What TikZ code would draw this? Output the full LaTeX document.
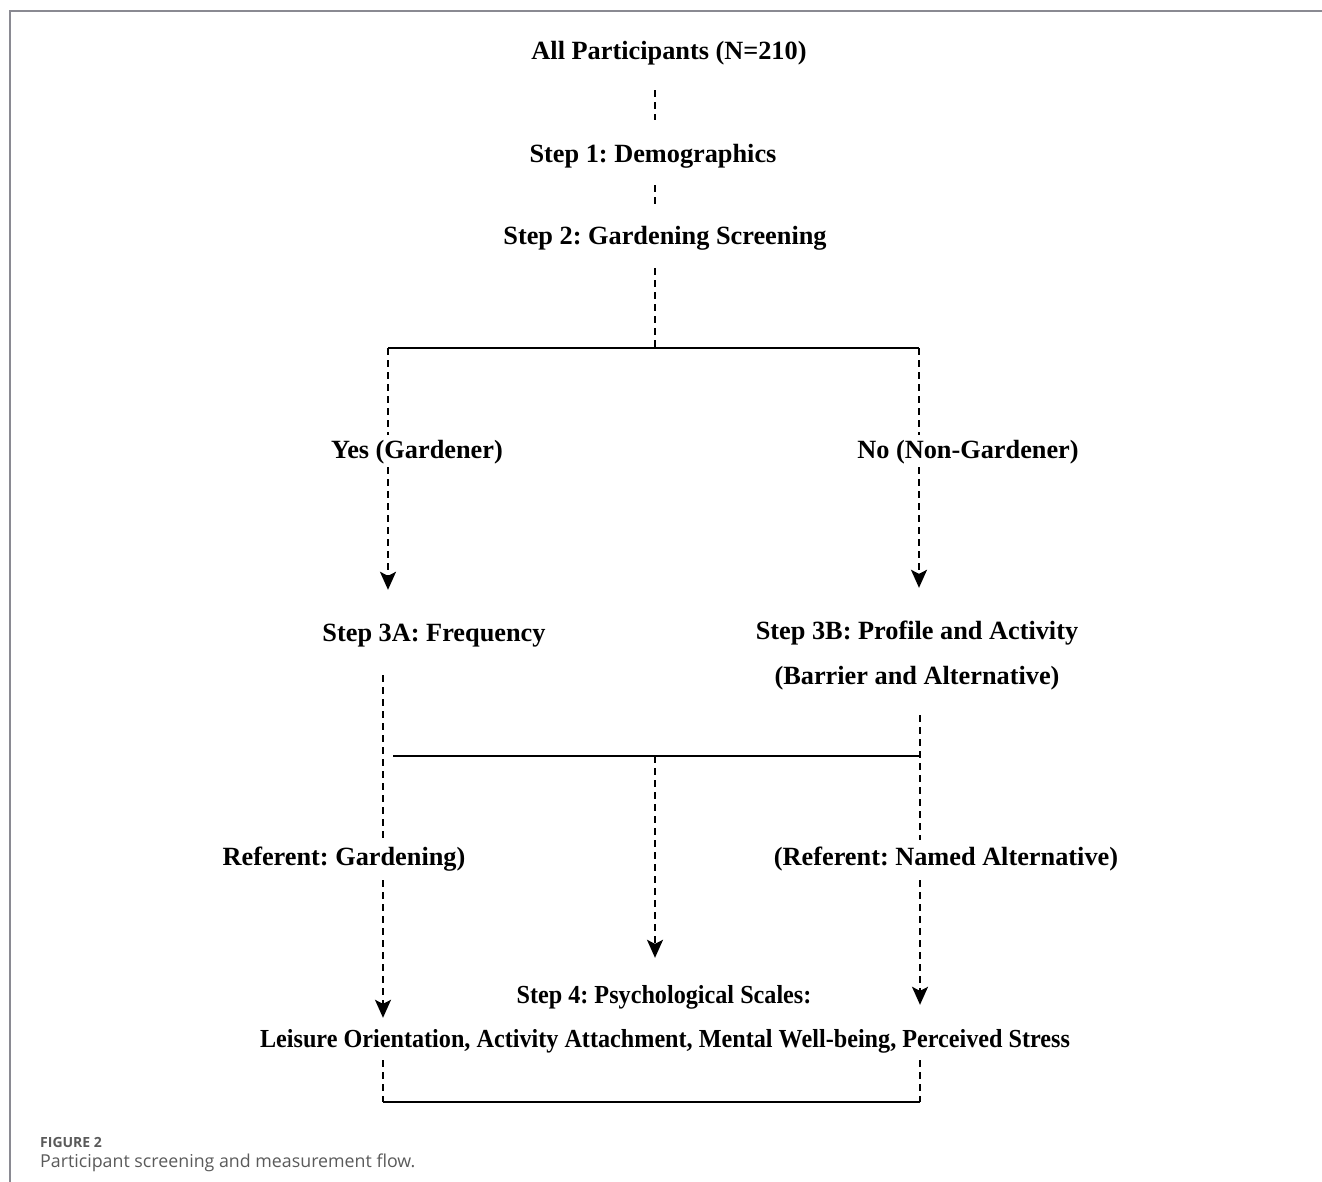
\documentclass[tikz,border=0pt]{standalone}
\usepackage{fontspec}
\setmainfont{Liberation Serif}
\newfontfamily\condfont[FakeStretch=0.93]{Liberation Serif}
\newfontfamily\capfont{Open Sans}
\usetikzlibrary{arrows.meta}
\definecolor{framegray}{HTML}{8A8A92}
\definecolor{capgray}{HTML}{5A5A5A}
\tikzset{
  lbl/.style={font=\frenchspacing\fontsize{26.3}{29}\selectfont\bfseries, inner sep=0pt, text height=19pt, text depth=6pt, anchor=center},
  lblc/.style={lbl, font=\frenchspacing\condfont\fontsize{26}{29}\selectfont\bfseries},
  dsh/.style={line width=1.7pt, dash pattern=on 7pt off 5pt},
  sld/.style={line width=2.2pt},
  arr/.style={-{Stealth[length=18pt,width=16pt,inset=4pt]}},
}
\begin{document}
\begin{tikzpicture}[x=1pt,y=-1pt]
\useasboundingbox (0,0) rectangle (1322,1182);
% frame
\draw[framegray, line width=2pt] (10,1182) -- (10,11) -- (1322,11);
% nodes
\node[lbl] (n1) at (669,53) {All Participants (N=210)};
\node[lbl] (s1) at (653,156) {Step 1: Demographics};
\node[lbl] (s2) at (665,238) {Step 2: Gardening Screening};
\node[lbl] (yes) at (417,452) {Yes (Gardener)};
\node[lbl] (no) at (968,452) {No (Non-Gardener)};
\node[lbl] (s3a) at (434,635) {Step 3A: Frequency};
\node[lbl] (s3b) at (917,633) {Step 3B: Profile and Activity};
\node[lbl] (s3bb) at (917,678) {(Barrier and Alternative)};
\node[lbl] (refg) at (344,859) {Referent: Gardening)};
\node[lbl] (refa) at (946,859) {(Referent: Named Alternative)};
\node[lblc] (s4) at (664,997) {Step 4: Psychological Scales:};
\node[lblc] (s4b) at (665,1041) {Leisure Orientation, Activity Attachment, Mental Well-being, Perceived Stress};
% coordinates
\coordinate (cx) at (655,0);
\coordinate (xl) at (388,0);
\coordinate (xr) at (919,0);
\coordinate (xl2) at (383,0);
\coordinate (xr2) at (920,0);
\coordinate (j1) at (655,348);
\coordinate (j1l) at (388,348);
\coordinate (j1r) at (919,348);
\coordinate (j2l) at (393,756);
\coordinate (j2m) at (655,756);
\coordinate (j2r) at (920,756);
\coordinate (j3l) at (383,1102);
\coordinate (j3r) at (920,1102);
% top trunk
\draw[dsh, shorten <=24.5pt, shorten >=23.5pt] (n1.south -| cx) -- (s1.north -| cx);
\draw[dsh, shorten <=16.5pt, shorten >=18.5pt] (s1.south -| cx) -- (s2.north -| cx);
\draw[dsh, shorten <=17.5pt] (s2.south -| cx) -- (j1);
\draw[sld] (j1l) -- (j1r);
% branches
\draw[dsh, shorten >=4.5pt] (j1l) -- (yes.north -| xl);
\draw[dsh, shorten >=4.5pt] (j1r) -- (no.north -| xr);
\draw[dsh, arr, shorten <=2.5pt, shorten >=32.5pt] (yes.south -| xl) -- (s3a.north -| xl);
\draw[dsh, arr, shorten <=2.5pt, shorten >=32.5pt] (no.south -| xr) -- (s3b.north -| xr);
% second level
\draw[dsh, shorten <=27.5pt, shorten >=6.5pt] (s3a.south -| xl2) -- (refg.north -| xl2);
\draw[dsh, shorten <=24.5pt, shorten >=6.5pt] (s3bb.south -| xr2) -- (refa.north -| xr2);
\draw[sld] (j2l) -- (j2r);
\draw[dsh, arr, shorten >=26.5pt] (j2m) -- (s4.north -| cx);
\draw[dsh, arr, shorten <=8.5pt, shorten >=-33.5pt] (refg.south -| xl2) -- (s4.north -| xl2);
\draw[dsh, arr, shorten <=8.5pt, shorten >=-20.5pt] (refa.south -| xr2) -- (s4.north -| xr2);
% bottom bracket
\draw[dsh, shorten <=6.5pt] (s4b.south -| xl2) -- (j3l);
\draw[dsh, shorten <=6.5pt] (s4b.south -| xr2) -- (j3r);
\draw[sld] (j3l) -- (j3r);
% caption
\node[anchor=west, inner sep=0pt, text=capgray, font=\capfont\fontsize{14}{16}\selectfont\bfseries] (fig) at (40,1142) {FIGURE 2};
\node[anchor=west, inner sep=0pt, text=capgray, font=\capfont\fontsize{17.8}{20}\selectfont] (cap) at (40,1163) {Participant screening and measurement flow.};
\end{tikzpicture}
\end{document}
